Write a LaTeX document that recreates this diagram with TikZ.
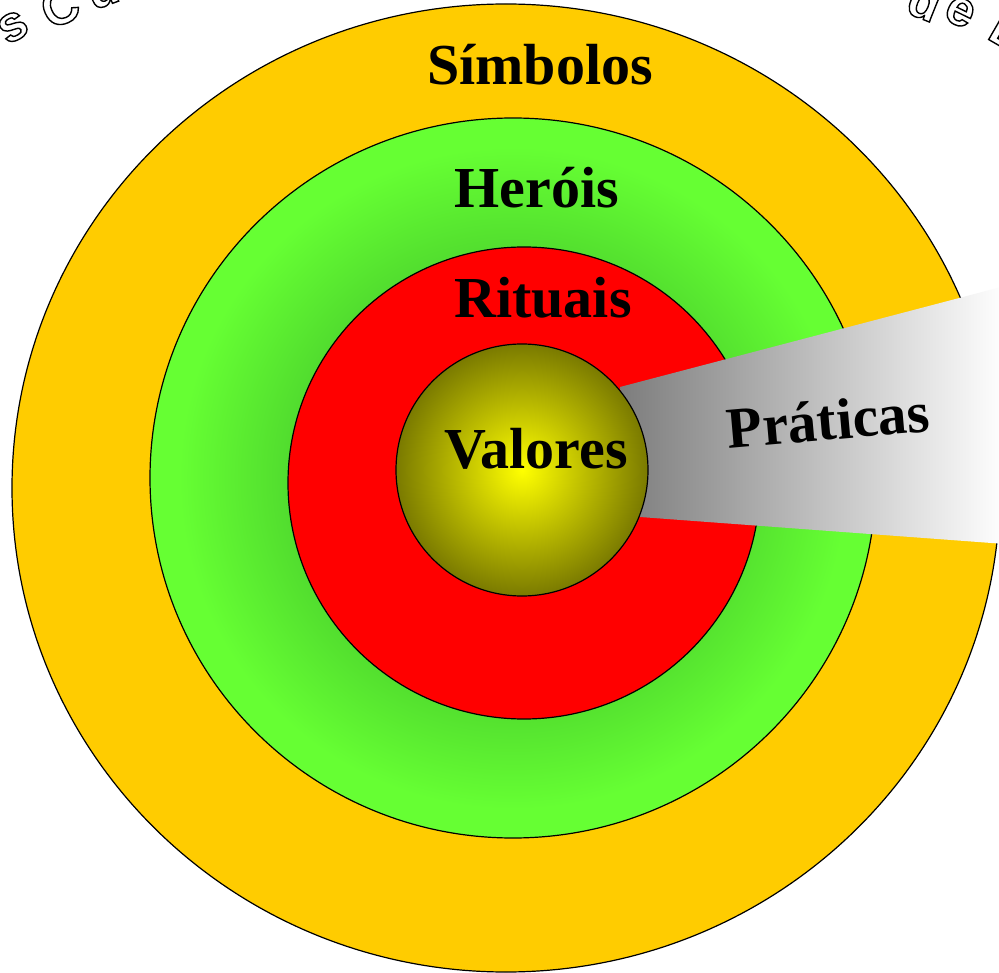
\documentclass[tikz,border=0pt]{standalone}
\usepackage{fontspec}
\setmainfont{Liberation Serif}
\newfontfamily\outlinefont{Liberation Sans}
\newcommand\hollow[1]{\special{pdf:literal direct 1 Tr 1.4 w}#1\special{pdf:literal direct 0 Tr}}
\definecolor{simb}{RGB}{255,204,0}
\definecolor{gdark}{RGB}{80,218,46}
\definecolor{glight}{RGB}{102,255,51}
\definecolor{olv}{RGB}{122,122,0}
\definecolor{wgray}{RGB}{125,125,125}
\pgfdeclareradialshading{greensh}{\pgfpoint{0bp}{0bp}}{color(0bp)=(gdark); color(15bp)=(gdark); color(23bp)=(glight); color(50bp)=(glight)}
\begin{document}
\begin{tikzpicture}[x=1pt,y=-1pt,
  ring/.style={draw=black,line width=1.2pt},
  lab/.style={font=\fontsize{58}{60}\selectfont\bfseries, anchor=base, inner sep=0pt},
  outl/.style={font=\outlinefont\bfseries\fontsize{50}{52}\selectfont, inner sep=0pt}]
\useasboundingbox (0,0) rectangle (999,973);
\clip (0,0) rectangle (999,973);
\fill[white] (0,0) rectangle (999,973);
% rings
\filldraw[ring, fill=simb] (506,488) ellipse [x radius=494, y radius=484];
\shadedraw[ring, shading=greensh] (513,478) ellipse [x radius=363, y radius=360];
\filldraw[ring, fill=red] (524,483) circle [radius=236];
% practices wedge
\shade[left color=wgray, right color=white] (620,387) -- (1005,286) -- (1005,544) -- (640,517) -- cycle;
% core
\shadedraw[ring, inner color=yellow, outer color=olv] (522,470) circle [radius=126];
% labels
\node[lab] (simbolos) at (540,85) {Símbolos};
\node[lab] (herois) at (537,208) {Heróis};
\node[lab] (rituais) at (543,318) {Rituais};
\node[lab] (valores) at (536,468) {Valores};
\node[lab, rotate=5] (praticas) at (830,440) {Práticas};
% curved outline title (fragments)
\node[outl, rotate=30] (t1) at (13,27) {\hollow{s}};
\node[outl, rotate=24] (t2) at (60,7) {\hollow{C}};
\node[outl, rotate=20] (t3) at (103,-7) {\hollow{u}};
\node[outl, rotate=18] (t4) at (128,-22) {\hollow{l}};
\node[outl, rotate=-22] (t5) at (925,1) {\hollow{d}};
\node[outl, rotate=-26] (t6) at (960,12) {\hollow{e}};
\node[outl, rotate=-30] (t7) at (1010,32) {\hollow{D}};
\end{tikzpicture}
\end{document}
